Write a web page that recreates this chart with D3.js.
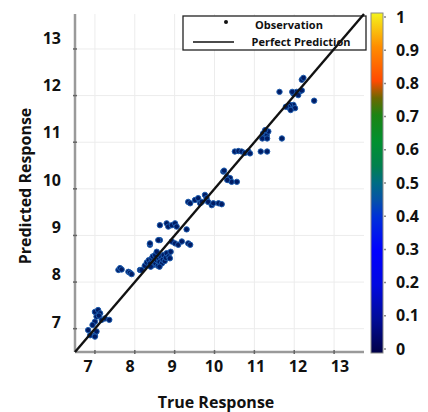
<!DOCTYPE html>
<html>
<head>
<meta charset="utf-8">
<script src="https://cdn.jsdelivr.net/npm/d3@7"></script>
<style>
  body { margin: 0; background: #fff; }
  svg { display: block; font-family: "Open Sans", "Liberation Sans", sans-serif; font-weight: bold; }
</style>
</head>
<body>
<svg id="chart" width="428" height="412"></svg>
<script>
// observations: true response vs predicted response
var trueVals = [
  7.00, 7.08, 7.13, 7.04, 7.17, 7.25, 7.36, 7.00, 6.94, 6.83, 6.88, 7.00, 7.04, 7.00, 7.10,
  7.59, 7.63, 7.67, 7.84, 7.88, 7.92, 8.13, 8.17,
  8.25, 8.30, 8.35, 8.38, 8.42, 8.45, 8.48, 8.50, 8.52, 8.55, 8.58, 8.60, 8.62, 8.65, 8.68,
  8.70, 8.72, 8.75, 8.78, 8.80, 8.85, 8.45, 8.55, 8.40, 8.62, 8.90,
  8.38, 8.38, 8.63, 8.59, 8.63, 8.80, 8.84, 8.93, 9.01, 9.05, 8.93, 9.01, 9.09, 9.18,
  9.30, 9.34, 9.39, 8.51, 8.55, 8.88,
  9.34, 9.39, 9.51, 9.59, 9.64, 9.68, 9.76, 9.80, 9.84, 9.93, 9.97, 10.10, 10.18,
  10.22, 10.24, 10.31, 10.35, 10.39, 10.43, 10.56, 10.32,
  10.51, 10.60, 10.68, 10.76, 10.85, 10.89, 11.16, 11.32,
  11.22, 11.27, 11.31, 11.35, 11.27, 11.20, 11.32, 11.69,
  11.63,
  11.89, 11.94, 11.98, 12.02, 11.89, 11.85, 11.79, 11.91,
  11.98, 12.06, 12.14, 12.19, 12.10, 11.95, 12.19, 12.23, 12.50
];
var predVals = [
  7.36, 7.40, 7.33, 7.26, 7.19, 7.22, 7.19, 7.15, 7.08, 6.97, 6.86, 6.86, 6.94, 6.83, 7.28,
  8.26, 8.30, 8.27, 8.22, 8.20, 8.17, 8.26, 8.26,
  8.35, 8.42, 8.47, 8.40, 8.50, 8.36, 8.44, 8.52, 8.40, 8.47, 8.35, 8.50, 8.43, 8.55, 8.40,
  8.48, 8.58, 8.45, 8.52, 8.62, 8.55, 8.55, 8.58, 8.33, 8.33, 8.65,
  8.80, 8.83, 8.90, 8.90, 9.22, 9.26, 9.19, 9.22, 9.26, 9.19, 8.87, 8.83, 8.80, 8.87,
  9.13, 8.83, 8.80, 8.58, 8.65, 8.51,
  9.72, 9.69, 9.76, 9.80, 9.69, 9.72, 9.87, 9.80, 9.72, 9.65, 9.69, 9.69, 9.67,
  10.37, 10.39, 10.26, 10.19, 10.23, 10.15, 10.15, 10.19,
  10.80, 10.81, 10.80, 10.77, 10.80, 10.76, 10.80, 10.80,
  11.19, 11.12, 11.15, 11.23, 11.26, 11.08, 11.08, 11.08,
  12.08,
  11.73, 11.76, 11.80, 11.73, 11.80, 11.76, 11.76, 11.69,
  12.04, 12.08, 12.09, 12.11, 12.01, 12.08, 12.34, 12.38, 11.89
];
var axisTicks = [7, 8, 9, 10, 11, 12, 13];
var colorTicks = [0, 0.1, 0.2, 0.3, 0.4, 0.5, 0.6, 0.7, 0.8, 0.9, 1];
var colorTickLabels = ["0", "0.1", "0.2", "0.3", "0.4", "0.5", "0.6", "0.7", "0.8", "0.9", "1"];
var colorStops = [
  [0, "#000048"], [0.1, "#000c98"], [0.2, "#0008e0"], [0.3, "#0000ff"], [0.4, "#0030d8"],
  [0.45, "#0552a8"], [0.5, "#006c84"], [0.55, "#00804e"], [0.62, "#009030"], [0.7, "#1c8414"],
  [0.75, "#6c6800"], [0.8, "#ff4a00"], [0.9, "#ff8c00"], [1, "#f4f41c"]
];

var svg = d3.select("#chart");
var domain = [6.5, 13.75];
var x = d3.scaleLinear().domain(domain).range([75, 364]);
var y = d3.scaleLinear().domain(domain).range([352, 14]);
// the tick labels in the figure sit a little off their ticks
var xLab = d3.scaleLinear().domain([7, 13]).range([88, 340]);
var yLab = d3.scaleLinear().domain([7, 13]).range([322, 38]);

// grid
svg.append("g").selectAll("line").data(axisTicks).enter().append("line")
  .attr("x1", function(d) { return x(d); }).attr("x2", function(d) { return x(d); })
  .attr("y1", y.range()[0]).attr("y2", y.range()[1])
  .attr("stroke", "#ececec").attr("stroke-width", 1);
svg.append("g").selectAll("line").data(axisTicks).enter().append("line")
  .attr("y1", function(d) { return y(d); }).attr("y2", function(d) { return y(d); })
  .attr("x1", x.range()[0]).attr("x2", x.range()[1])
  .attr("stroke", "#ececec").attr("stroke-width", 1);

// axes lines
svg.append("line").attr("x1", x.range()[0]).attr("x2", x.range()[0])
  .attr("y1", y.range()[0]).attr("y2", y.range()[1])
  .attr("stroke", "#9a9a9a").attr("stroke-width", 2.5);
svg.append("line").attr("x1", x.range()[0]).attr("x2", x.range()[1])
  .attr("y1", y.range()[0]).attr("y2", y.range()[0])
  .attr("stroke", "#9a9a9a").attr("stroke-width", 2.5);
svg.append("g").selectAll("line").data(axisTicks).enter().append("line")
  .attr("x1", function(d) { return x(d); }).attr("x2", function(d) { return x(d); })
  .attr("y1", 350).attr("y2", 354).attr("stroke", "#666").attr("stroke-width", 1.5);
svg.append("g").selectAll("line").data(axisTicks).enter().append("line")
  .attr("y1", function(d) { return y(d); }).attr("y2", function(d) { return y(d); })
  .attr("x1", 73).attr("x2", 77).attr("stroke", "#666").attr("stroke-width", 1.5);

// tick labels
svg.append("g").selectAll("text").data(axisTicks).enter().append("text")
  .attr("x", function(d) { return xLab(d); }).attr("y", 372)
  .attr("text-anchor", "middle").attr("font-size", 16).attr("fill", "#111")
  .text(function(d) { return d; });
svg.append("g").selectAll("text").data(axisTicks).enter().append("text")
  .attr("x", 61).attr("y", function(d) { return yLab(d); })
  .attr("dy", "0.35em").attr("text-anchor", "end").attr("font-size", 16).attr("fill", "#111")
  .text(function(d) { return d; });

// axis titles
svg.append("text").attr("x", 216).attr("y", 408).attr("text-anchor", "middle")
  .attr("font-size", 16).attr("fill", "#111").text("True Response");
svg.append("text").attr("transform", "translate(31,186) rotate(-90)")
  .attr("text-anchor", "middle").attr("font-size", 16).attr("fill", "#111").text("Predicted Response");

// legend
var lg = svg.append("g");
lg.append("rect").attr("x", 183).attr("y", 16).attr("width", 183).attr("height", 34)
  .attr("fill", "#fff").attr("stroke", "#222").attr("stroke-width", 1.3);
lg.append("circle").attr("cx", 226).attr("cy", 22).attr("r", 2).attr("fill", "#111");
lg.append("text").attr("x", 289).attr("y", 29).attr("text-anchor", "middle")
  .attr("font-size", 11).attr("fill", "#111").text("Observation");
lg.append("line").attr("x1", 193).attr("x2", 234).attr("y1", 42).attr("y2", 42)
  .attr("stroke", "#111").attr("stroke-width", 1.3);
lg.append("text").attr("x", 301).attr("y", 46).attr("text-anchor", "middle")
  .attr("font-size", 11).attr("fill", "#111").text("Perfect Prediction");

// observations
svg.append("g").selectAll("circle").data(trueVals).enter().append("circle")
  .attr("cx", function(d) { return x(d); })
  .attr("cy", function(d, i) { return y(predVals[i]); })
  .attr("r", 2.7)
  .attr("fill", "#001c64").attr("stroke", "#1d5cae").attr("stroke-width", 1);

// perfect prediction line
svg.append("line")
  .attr("x1", x(domain[0])).attr("y1", y(domain[0]))
  .attr("x2", x(domain[1])).attr("y2", y(domain[1]))
  .attr("stroke", "#111").attr("stroke-width", 2.4);

// colorbar
var defs = svg.append("defs");
var grad = defs.append("linearGradient").attr("id", "cbar")
  .attr("x1", 0).attr("y1", 1).attr("x2", 0).attr("y2", 0);
grad.selectAll("stop").data(colorStops).enter().append("stop")
  .attr("offset", function(d) { return d[0]; })
  .attr("stop-color", function(d) { return d[1]; });
var c = d3.scaleLinear().domain([0, 1]).range([349, 17]);
svg.append("rect").attr("x", 371).attr("y", 13).attr("width", 12).attr("height", 340)
  .attr("fill", "url(#cbar)").attr("stroke", "#8a8a8a").attr("stroke-width", 1);
svg.append("g").selectAll("line").data(colorTicks).enter().append("line")
  .attr("x1", 384).attr("x2", 386)
  .attr("y1", function(d) { return c(d); }).attr("y2", function(d) { return c(d); })
  .attr("stroke", "#888").attr("stroke-width", 1.5);
svg.append("g").selectAll("text").data(colorTicks).enter().append("text")
  .attr("x", 396).attr("y", function(d) { return c(d); }).attr("dy", "0.35em")
  .attr("font-size", 16).attr("fill", "#111")
  .text(function(d, i) { return colorTickLabels[i]; });
</script>
</body>
</html>
